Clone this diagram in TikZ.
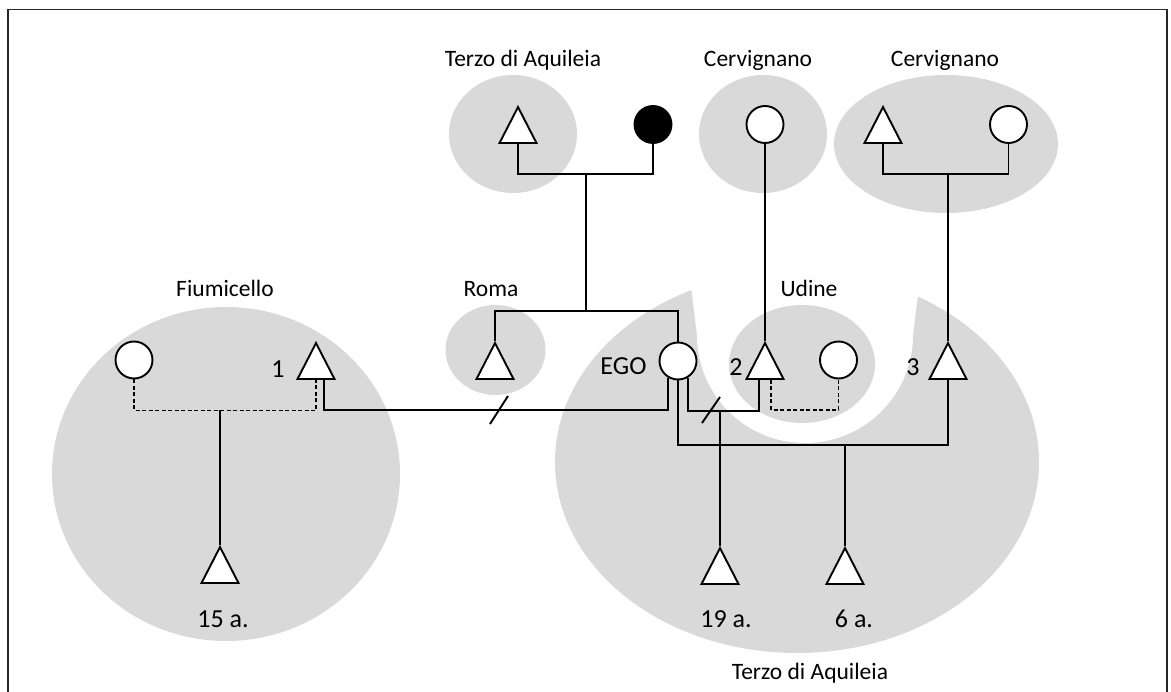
\documentclass[tikz,border=0pt]{standalone}
\usepackage{fontspec}
\setmainfont{Carlito}
\usetikzlibrary{shapes.geometric}
\definecolor{areagray}{RGB}{217,217,217}
\tikzstyle{male} = [isosceles triangle, isosceles triangle stretches, shape border rotate=90, minimum width=37pt, minimum height=36pt, inner sep=0pt, draw=black, fill=white, line width=1.9pt]
\tikzstyle{female} = [circle, minimum size=37pt, inner sep=0pt, draw=black, fill=white, line width=1.9pt]
\tikzstyle{deceased} = [female, fill=black]
\tikzstyle{placename} = [font=\fontsize{23.5}{28}\selectfont, anchor=base]
\tikzstyle{tag} = [font=\fontsize{26}{30}\selectfont]
\tikzstyle{area} = [fill=areagray]
\tikzstyle{link} = [line width=1.9pt]
\tikzstyle{cohab} = [line width=1.5pt, dash pattern=on 4pt off 2.5pt]

\begin{document}
\begin{tikzpicture}[x=1pt, y=-1pt]
\useasboundingbox (0,0) rectangle (1171,692);
\draw [line width=1.6pt, black!85] (8,692) -- (8,9.5) -- (1167,9.5) -- (1167,692);

% residence areas
\fill [area] (513,134) ellipse (64 and 59);
\fill [area] (763,134) ellipse (64 and 59);
\fill [area] (946,144) ellipse (112 and 69);
\fill [area] (226,474) ellipse (174 and 167);
\fill [area] (495.5,350) ellipse (50 and 45);
\fill [area] (797,462) ellipse (242 and 191);
\fill [white] (688,262) -- (697,335) arc [start angle=180, end angle=0, radius=108] -- (922,262) -- cycle;
\fill [area] (802,364) ellipse (73 and 59);

% people
\node (pgf) [male, anchor=south] at (518,144) {};
\node (pgm) [deceased] at (653,124.5) {};
\node (mgm) [female] at (765,124.5) {};
\node (c3f) [male, anchor=south] at (883,144) {};
\node (c3m) [female] at (1008.5,124.5) {};
\node (fiuw) [female] at (134,360) {};
\node (p1) [male, anchor=south] at (316,380) {};
\node (bro) [male, anchor=south] at (495,380) {};
\node (ego) [female] at (678,361) {};
\node (p2) [male, anchor=south] at (765,380) {};
\node (udw) [female] at (838.5,360) {};
\node (p3) [male, anchor=south] at (948,380) {};
\node (s15) [male, anchor=south] at (220,584) {};
\node (s19) [male, anchor=south] at (720,585) {};
\node (s6) [male, anchor=south] at (845,585) {};

% labels
\node (lterzo) [placename] at (523,67) {Terzo di Aquileia};
\node (lcerv) [placename] at (758,67) {Cervignano};
\node (lcervb) [placename] at (945,67) {Cervignano};
\node (lfiu) [placename] at (225,297) {Fiumicello};
\node (lroma) [placename] at (491,297) {Roma};
\node (ludine) [placename] at (809,297) {Udine};
\node (lterzob) [placename] at (810,679) {Terzo di Aquileia};
\node (lego) [tag, anchor=east] at (650,366) {EGO};
\node (l1) [tag] at (278,369) {1};
\node (l2) [tag] at (736,367.5) {2};
\node (l3) [tag] at (913,367.5) {3};
\node (a15) [tag, anchor=base] at (223,627) {15 a.};
\node (a19) [tag, anchor=base] at (726,627) {19 a.};
\node (a6) [tag, anchor=base] at (854,627) {6 a.};

\coordinate (sib) at (586,174);
\coordinate (sibbar) at (586,311);
\coordinate (c3bar) at (948,174);
\coordinate (fiubar) at (220,410);
\coordinate (bar19) at (720,410);
\coordinate (bar6) at (845,444);
\coordinate (cut1) at (499,410);
\coordinate (cut2) at (711,410);

\draw [link] (pgf.south) -- ++(0,30) -| (pgm.south);
\draw [link] (sib) -- (sibbar);
\draw [link] (bro.apex) |- (sibbar) -| (ego.north);
\draw [link] (mgm.south) -- (p2.apex);
\draw [link] (c3f.south) -- ++(0,30) -| (c3m.south);
\draw [link] (c3bar) -- (p3.apex);

\draw [cohab] (fiuw.south) -- ++(0,31) -| (p1.south);
\draw [link] (fiubar) -- (s15.apex);
\draw [link] ([xshift=8pt]p1.south) -- ++(0,30) -| (ego.-120);
\draw [link] ([shift={(-9,14)}]cut1) -- ([shift={(9,-14)}]cut1);

\draw [link] (ego.-60) -- ++(0,33) -| ([xshift=-6pt]p2.south);
\draw [link] (bar19) -- (s19.apex);
\draw [link] ([shift={(-9,13)}]cut2) -- ([shift={(9,-13)}]cut2);
\draw [cohab] ([xshift=6pt]p2.south) -- ++(0,30) -| (udw.south);

\draw [link] (ego.south) -- ++(0,64.5) -| (p3.south);
\draw [link] (bar6) -- (s6.apex);
\end{tikzpicture}
\end{document}
